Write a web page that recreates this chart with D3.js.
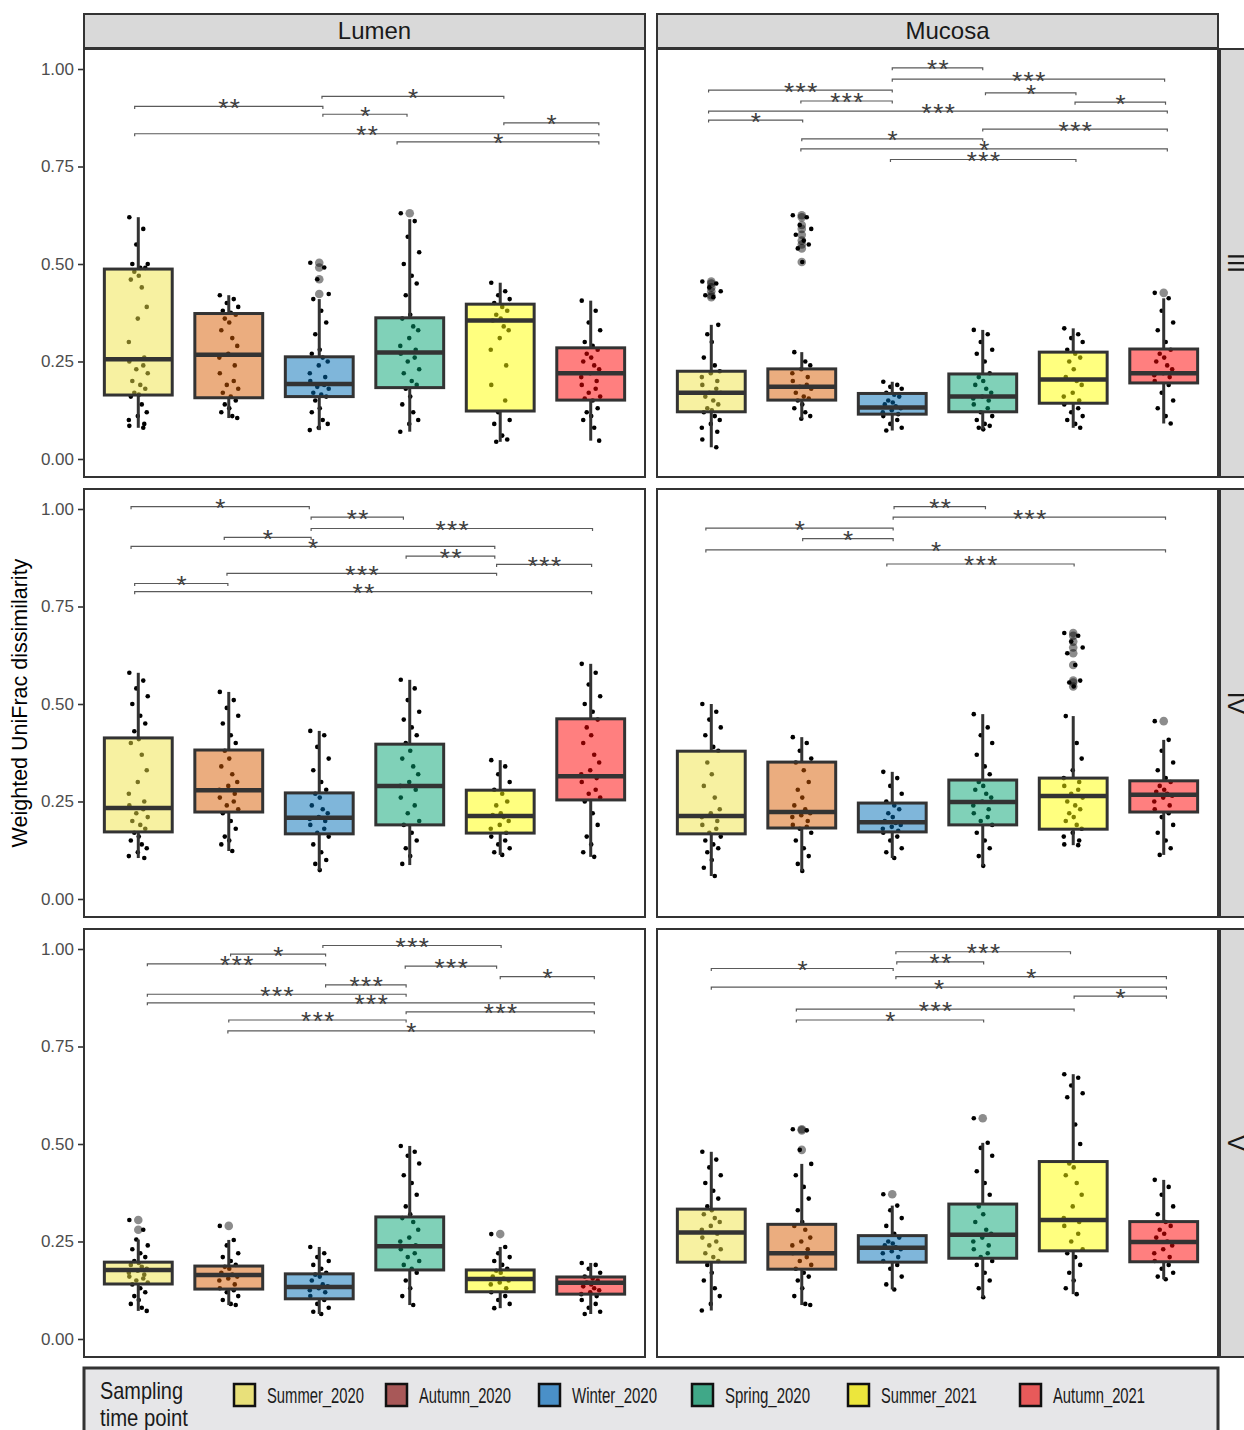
<!DOCTYPE html>
<html>
<head>
<meta charset="utf-8">
<script src="https://cdn.jsdelivr.net/npm/d3@7"></script>
<style>
body{margin:0;background:#fff;}
svg text{font-family:"Liberation Sans",Arial,sans-serif;}
</style>
</head>
<body>
<div id="bdy"></div>
<script>
var groups = ["Summer_2020","Autumn_2020","Winter_2020","Spring_2020","Summer_2021","Autumn_2021"];
var sites = ["Lumen","Mucosa"];
var segments = ["III","IV","V"];
var yTicks = [0, 0.25, 0.5, 0.75, 1];
var boxFill = ["#EFE343","#D75B00","#006DB5","#01A371","#FFFF00","#FF0000"];
var legendFill = ["#E8E07A","#A85858","#4A90C8","#40A888","#ECE63C","#E85A5A"];

// box stats per group: [lower whisker, q1, median, q3, upper whisker]
var statsLumenIII = [[.08,.164,.256,.487,.62],[.105,.157,.267,.373,.42],[.074,.16,.192,.262,.41],[.07,.183,.273,.362,.615],[.044,.123,.355,.397,.452],[.047,.151,.22,.285,.406]];
var statsMucosaIII = [[.03,.121,.17,.225,.344],[.103,.151,.185,.231,.274],[.073,.115,.132,.168,.198],[.076,.121,.16,.218,.331],[.08,.143,.204,.274,.335],[.091,.195,.22,.282,.412]];
var statsLumenIV = [[.105,.172,.233,.413,.58],[.123,.223,.279,.382,.531],[.074,.167,.208,.272,.431],[.087,.19,.29,.397,.562],[.113,.169,.213,.279,.356],[.108,.254,.315,.462,.603]];
var statsMucosaIV = [[.059,.167,.213,.379,.50],[.072,.182,.223,.351,.415],[.105,.172,.197,.246,.326],[.085,.19,.249,.305,.474],[.138,.179,.264,.31,.469],[.113,.223,.267,.303,.408]];
var statsLumenV = [[.072,.141,.177,.197,.255],[.087,.128,.164,.187,.254],[.064,.103,.133,.167,.236],[.087,.177,.238,.313,.495],[.079,.121,.154,.177,.236],[.064,.115,.144,.159,.195]];
var statsMucosaV = [[.073,.197,.273,.333,.48],[.087,.179,.22,.294,.449],[.127,.197,.234,.265,.342],[.107,.207,.267,.346,.503],[.115,.226,.305,.455,.679],[.153,.198,.249,.301,.408]];

// outliers per group
var outLumenIII = [[],[],[.503,.491,.461,.423],[.63],[],[]];
var outMucosaIII = [[.455,.45,.44,.43,.42,.415],[.625,.62,.60,.59,.575,.56,.55,.54,.505],[],[],[],[.426]];
var outLumenIV = [[],[],[],[],[],[]];
var outMucosaIV = [[],[],[],[],[.682,.675,.66,.645,.63,.60,.56,.555,.545],[.456]];
var outLumenV = [[.305,.28],[.29],[],[],[.269],[]];
var outMucosaV = [[],[.538,.535,.485],[.371],[.566],[],[]];

// all samples (jittered points)
var ptsLumenIII = [
  [.62,.59,.55,.50,.50,.49,.49,.48,.47,.46,.44,.39,.36,.30,.26,.25,.24,.23,.22,.20,.19,.18,.17,.165,.16,.14,.12,.11,.10,.09,.085,.08],
  [.42,.41,.40,.39,.38,.375,.37,.36,.35,.33,.31,.29,.27,.26,.24,.22,.20,.19,.18,.17,.16,.15,.14,.13,.12,.11,.105],
  [.503,.491,.461,.423,.41,.38,.35,.32,.28,.27,.26,.25,.24,.22,.21,.20,.19,.185,.18,.17,.165,.16,.15,.13,.12,.10,.09,.08,.074],
  [.63,.61,.57,.53,.50,.47,.45,.42,.37,.36,.34,.33,.31,.29,.28,.27,.26,.25,.23,.22,.20,.19,.18,.16,.14,.12,.10,.09,.07],
  [.452,.43,.42,.41,.40,.39,.38,.37,.36,.355,.34,.33,.31,.28,.24,.19,.15,.12,.10,.09,.06,.05,.044],
  [.406,.38,.35,.33,.30,.29,.28,.27,.26,.25,.24,.23,.22,.21,.20,.19,.18,.17,.16,.155,.15,.13,.12,.11,.10,.08,.047]
];
var ptsMucosaIII = [
  [.455,.45,.44,.43,.42,.415,.344,.32,.30,.26,.24,.225,.22,.21,.20,.19,.18,.17,.17,.16,.15,.14,.13,.125,.12,.11,.10,.09,.08,.07,.05,.03],
  [.625,.62,.60,.59,.575,.56,.55,.54,.505,.274,.25,.24,.23,.22,.21,.20,.19,.185,.18,.17,.16,.155,.15,.14,.13,.12,.11,.103],
  [.198,.19,.185,.18,.17,.165,.16,.15,.145,.14,.135,.13,.125,.12,.115,.11,.10,.09,.08,.073],
  [.331,.32,.30,.28,.27,.25,.22,.21,.20,.19,.18,.17,.16,.155,.15,.14,.13,.12,.11,.10,.09,.085,.08,.076],
  [.335,.32,.31,.30,.28,.27,.26,.25,.23,.21,.20,.19,.17,.16,.15,.14,.13,.12,.11,.10,.09,.08],
  [.426,.412,.38,.35,.33,.30,.28,.27,.26,.25,.24,.23,.22,.215,.21,.20,.19,.17,.15,.13,.11,.091]
];
var ptsLumenIV = [
  [.58,.56,.54,.52,.50,.47,.45,.43,.41,.40,.37,.33,.30,.27,.25,.24,.23,.22,.21,.20,.19,.18,.17,.16,.15,.14,.13,.12,.11,.105],
  [.531,.51,.49,.47,.45,.42,.40,.38,.36,.34,.32,.30,.29,.28,.27,.26,.25,.24,.23,.22,.20,.18,.16,.15,.14,.123],
  [.431,.42,.39,.36,.33,.30,.28,.27,.26,.24,.23,.22,.21,.205,.20,.19,.18,.17,.16,.14,.12,.10,.09,.074],
  [.562,.54,.51,.48,.46,.44,.42,.40,.38,.36,.34,.32,.30,.29,.28,.26,.24,.22,.20,.19,.17,.15,.13,.11,.09],
  [.356,.34,.32,.30,.28,.27,.25,.24,.22,.215,.21,.20,.19,.18,.17,.16,.15,.14,.13,.12,.113],
  [.603,.58,.55,.52,.50,.48,.46,.44,.42,.40,.37,.35,.33,.32,.31,.30,.28,.27,.26,.25,.22,.19,.16,.14,.12,.108]
];
var ptsMucosaIV = [
  [.50,.48,.46,.44,.42,.39,.38,.35,.32,.29,.26,.23,.22,.21,.20,.19,.18,.17,.16,.15,.14,.13,.12,.10,.08,.059],
  [.415,.40,.38,.36,.35,.33,.30,.28,.26,.24,.23,.22,.215,.21,.20,.19,.185,.18,.17,.15,.13,.11,.09,.072],
  [.326,.31,.29,.27,.25,.24,.23,.22,.21,.20,.195,.19,.185,.18,.175,.17,.16,.15,.13,.12,.105],
  [.474,.44,.42,.40,.37,.34,.32,.30,.29,.28,.27,.26,.25,.24,.23,.22,.21,.20,.19,.17,.15,.13,.11,.085],
  [.682,.675,.66,.645,.63,.60,.56,.555,.545,.469,.40,.36,.33,.31,.30,.29,.28,.27,.26,.25,.24,.23,.22,.21,.20,.19,.18,.17,.16,.15,.14,.138],
  [.456,.408,.38,.35,.33,.31,.30,.29,.28,.275,.27,.265,.26,.25,.24,.23,.22,.21,.19,.17,.15,.13,.113]
];
var ptsLumenV = [
  [.305,.28,.255,.24,.23,.22,.21,.20,.195,.19,.185,.18,.175,.17,.165,.16,.155,.15,.145,.14,.13,.12,.11,.10,.09,.08,.072],
  [.29,.254,.24,.22,.21,.20,.19,.185,.18,.17,.165,.16,.155,.15,.14,.13,.125,.12,.11,.10,.09,.087],
  [.236,.22,.21,.20,.19,.18,.17,.165,.16,.15,.14,.135,.13,.125,.12,.11,.10,.09,.08,.07,.064],
  [.495,.48,.47,.45,.42,.40,.37,.34,.32,.31,.30,.28,.26,.25,.24,.23,.22,.21,.20,.19,.18,.17,.15,.13,.11,.087],
  [.269,.236,.22,.21,.20,.19,.18,.175,.17,.16,.155,.15,.145,.14,.13,.12,.11,.10,.09,.079],
  [.195,.19,.18,.17,.16,.155,.15,.145,.14,.135,.13,.125,.12,.115,.11,.10,.09,.08,.07,.064]
];
var ptsMucosaV = [
  [.48,.46,.44,.42,.40,.38,.36,.34,.33,.32,.31,.30,.29,.28,.27,.26,.25,.24,.23,.22,.21,.20,.19,.17,.15,.13,.11,.09,.073],
  [.538,.535,.485,.449,.42,.39,.36,.33,.30,.29,.28,.26,.25,.24,.23,.22,.21,.20,.19,.18,.17,.16,.15,.13,.11,.09,.087],
  [.371,.342,.33,.31,.29,.27,.26,.25,.245,.24,.235,.23,.225,.22,.21,.20,.19,.18,.16,.14,.127],
  [.566,.503,.49,.47,.43,.40,.37,.34,.32,.30,.28,.27,.26,.25,.24,.23,.22,.21,.20,.19,.17,.15,.13,.107],
  [.679,.67,.65,.63,.62,.55,.50,.45,.44,.42,.40,.37,.34,.31,.30,.29,.27,.25,.23,.22,.21,.19,.17,.15,.13,.115],
  [.408,.39,.37,.34,.32,.30,.29,.28,.27,.26,.25,.24,.23,.22,.21,.20,.19,.18,.17,.16,.153]
];

// significance brackets: [from group, to group, height, label]
var sigLumenIII = [[0.96,3.04,.904,"**"],[3.03,5.04,.930,"*"],[3.04,3.97,.884,"*"],[5.04,6.09,.862,"*"],[0.96,6.09,.834,"**"],[3.86,6.09,.813,"*"]];
var sigMucosaIII = [[3.0,4.0,1.003,"**"],[3.0,6.01,.974,"***"],[0.97,3.0,.946,"***"],[4.03,5.03,.939,"*"],[1.99,3.0,.918,"***"],[5.02,6.02,.915,"*"],
  [0.97,6.04,.892,"***"],[0.97,2.01,.869,"*"],[4.0,6.04,.846,"***"],[2.0,4.0,.821,"*"],[1.99,6.04,.795,"*"],[2.98,5.03,.768,"***"]];
var sigLumenIV = [[0.92,2.89,1.006,"*"],[2.91,3.93,.979,"**"],[2.91,6.02,.950,"***"],[1.95,2.91,.927,"*"],[0.92,4.94,.904,"*"],
  [3.96,4.94,.879,"**"],[4.96,6.01,.858,"***"],[1.98,4.96,.835,"***"],[0.96,1.99,.809,"*"],[0.96,6.01,.788,"**"]];
var sigMucosaIV = [[3.02,4.03,1.006,"**"],[3.01,6.02,.979,"***"],[0.94,3.01,.951,"*"],[2.01,3.01,.924,"*"],[0.94,6.02,.895,"*"],[2.94,5.01,.859,"***"]];
var sigLumenV = [[3.04,5.01,1.009,"***"],[2.02,3.07,.987,"*"],[1.10,3.07,.962,"***"],[3.95,4.96,.956,"***"],[5.0,6.04,.929,"*"],[3.07,3.96,.908,"***"],
  [1.10,3.96,.884,"***"],[1.10,6.04,.862,"***"],[3.96,6.04,.839,"***"],[2.0,3.96,.818,"***"],[1.99,6.04,.790,"*"]];
var sigMucosaV = [[3.04,4.97,.993,"***"],[3.05,4.01,.967,"**"],[1.0,3.01,.950,"*"],[3.04,6.03,.929,"*"],[1.0,6.03,.902,"*"],[5.01,6.03,.879,"*"],
  [1.94,5.01,.846,"***"],[1.94,4.01,.818,"*"]];

var panels = [
  {site:0, seg:0, stats:statsLumenIII, out:outLumenIII, pts:ptsLumenIII, sig:sigLumenIII},
  {site:1, seg:0, stats:statsMucosaIII, out:outMucosaIII, pts:ptsMucosaIII, sig:sigMucosaIII},
  {site:0, seg:1, stats:statsLumenIV, out:outLumenIV, pts:ptsLumenIV, sig:sigLumenIV},
  {site:1, seg:1, stats:statsMucosaIV, out:outMucosaIV, pts:ptsMucosaIV, sig:sigMucosaIV},
  {site:0, seg:2, stats:statsLumenV, out:outLumenV, pts:ptsLumenV, sig:sigLumenV},
  {site:1, seg:2, stats:statsMucosaV, out:outMucosaV, pts:ptsMucosaV, sig:sigMucosaV}
];

var colX = [[84,645],[657,1218]];
var rowY = [[49,477],[489,917],[929,1357]];
// fixed horizontal jitter pattern (fraction of jitter width)
var jit = [-0.9,0.5,-0.2,0.95,-0.6,0.2,0.7,-0.4,0.05,-0.75,0.35,0.85,-0.05,-0.95,0.6];

var svg = d3.select('#bdy').append('svg')
    .attr('width', 1244)
    .attr('height', 1430);

//========================================================================
//                      PANELS
//========================================================================
panels.forEach(function(p){
    var x0 = colX[p.site][0], x1 = colX[p.site][1];
    var y0 = rowY[p.seg][0], y1 = rowY[p.seg][1];
    var x = d3.scaleLinear().domain([0.4, 6.6]).range([x0, x1]);
    var y = d3.scaleLinear().domain([-0.0462, 1.0513]).range([y1, y0]);
    var bw = x(1.375) - x(0.625);

    var g = svg.append('g');
    g.append('rect')
        .attr('x', x0).attr('y', y0)
        .attr('width', x1 - x0).attr('height', y1 - y0)
        .attr('fill', '#fff');

    // jittered samples first, boxes go over them
    p.pts.forEach(function(vals, gi){
        g.selectAll(null)
            .data(vals)
            .enter().append('circle')
            .attr('cx', function(d, i){ return x(gi + 1 + jit[i % jit.length] * 0.11); })
            .attr('cy', function(d){ return y(d); })
            .attr('r', 2.3)
            .attr('fill', '#000');
    });

    p.stats.forEach(function(s, gi){
        var cx = x(gi + 1);
        var bx = g.append('g');
        bx.append('line')
            .attr('x1', cx).attr('x2', cx)
            .attr('y1', y(s[4])).attr('y2', y(s[3]))
            .attr('stroke', '#333').attr('stroke-width', 3);
        bx.append('line')
            .attr('x1', cx).attr('x2', cx)
            .attr('y1', y(s[1])).attr('y2', y(s[0]))
            .attr('stroke', '#333').attr('stroke-width', 3);
        bx.append('rect')
            .attr('x', cx - bw / 2).attr('width', bw)
            .attr('y', y(s[3])).attr('height', y(s[1]) - y(s[3]))
            .attr('fill', boxFill[gi]).attr('fill-opacity', 0.5)
            .attr('stroke', '#333').attr('stroke-width', 3);
        bx.append('line')
            .attr('x1', cx - bw / 2).attr('x2', cx + bw / 2)
            .attr('y1', y(s[2])).attr('y2', y(s[2]))
            .attr('stroke', '#333').attr('stroke-width', 4.5);
        bx.selectAll('.out')
            .data(p.out[gi])
            .enter().append('circle')
            .attr('cx', cx)
            .attr('cy', function(d){ return y(d); })
            .attr('r', 4.3)
            .attr('fill', '#000').attr('fill-opacity', 0.45);
    });

    // significance brackets
    var sg = g.append('g');
    sg.selectAll('path')
        .data(p.sig)
        .enter().append('path')
        .attr('d', function(d){
            var yy = y(d[2]);
            return 'M' + x(d[0]) + ',' + (yy + 2.5) + 'L' + x(d[0]) + ',' + yy +
                   'L' + x(d[1]) + ',' + yy + 'L' + x(d[1]) + ',' + (yy + 2.5);
        })
        .attr('fill', 'none')
        .attr('stroke', '#5a5a5a')
        .attr('stroke-width', 1.2);
    sg.selectAll('text')
        .data(p.sig)
        .enter().append('text')
        .attr('x', function(d){ return (x(d[0]) + x(d[1])) / 2 + 1; })
        .attr('y', function(d){ return y(d[2]) + 10.5; })
        .attr('text-anchor', 'middle')
        .style('font-size', '26px')
        .style('letter-spacing', '1.5px')
        .attr('fill', '#3d3d3d')
        .text(function(d){ return d[3]; });

    g.append('rect')
        .attr('x', x0).attr('y', y0)
        .attr('width', x1 - x0).attr('height', y1 - y0)
        .attr('fill', 'none')
        .attr('stroke', '#333').attr('stroke-width', 2);

    // y axis only on the left column
    if (p.site == 0) {
        var ax = g.append('g')
            .attr('transform', 'translate(' + (x0 - 1) + ',0)')
            .call(d3.axisLeft(y).tickValues(yTicks).tickFormat(d3.format('.2f')).tickSize(5).tickPadding(4));
        ax.select('.domain').remove();
        ax.selectAll('line').attr('stroke', '#333').attr('stroke-width', 1.6);
        ax.selectAll('text')
            .attr('fill', '#4d4d4d')
            .style('font-size', '17px')
            .style('font-family', '"Liberation Sans",Arial,sans-serif');
    }
});

//========================================================================
//                      STRIPS
//========================================================================
sites.forEach(function(s, i){
    svg.append('rect')
        .attr('x', colX[i][0]).attr('y', 14)
        .attr('width', colX[i][1] - colX[i][0]).attr('height', 34)
        .attr('fill', '#d9d9d9').attr('stroke', '#333').attr('stroke-width', 2);
    svg.append('text')
        .attr('x', (colX[i][0] + colX[i][1]) / 2 + 10)
        .attr('y', 30)
        .attr('text-anchor', 'middle')
        .attr('dominant-baseline', 'central')
        .style('font-size', '24px')
        .attr('fill', '#1a1a1a')
        .text(s);
});

segments.forEach(function(s, i){
    svg.append('rect')
        .attr('x', 1220).attr('y', rowY[i][0])
        .attr('width', 36).attr('height', rowY[i][1] - rowY[i][0])
        .attr('fill', '#d9d9d9').attr('stroke', '#333').attr('stroke-width', 2);
    svg.append('text')
        .attr('transform', 'translate(1236,' + (rowY[i][0] + rowY[i][1]) / 2 + ') rotate(90)')
        .attr('text-anchor', 'middle')
        .attr('dominant-baseline', 'central')
        .style('font-size', '24px')
        .attr('fill', '#1a1a1a')
        .text(s);
});

// y axis title
svg.append('text')
    .attr('transform', 'translate(20,703) rotate(-90)')
    .attr('text-anchor', 'middle')
    .attr('dominant-baseline', 'central')
    .style('font-size', '21.5px')
    .attr('fill', '#000')
    .text('Weighted UniFrac dissimilarity');

//========================================================================
//                      LEGEND
//========================================================================
var keyX = [234, 386, 539, 692, 848, 1020];
var labW = [97, 92, 85, 85, 96, 92];
var leg = svg.append('g');
leg.append('rect')
    .attr('x', 84).attr('y', 1368)
    .attr('width', 1134).attr('height', 90)
    .attr('fill', '#e6e6e8').attr('stroke', '#333').attr('stroke-width', 3);
leg.append('text')
    .attr('x', 100).attr('y', 1399)
    .style('font-size', '24px')
    .attr('textLength', 83).attr('lengthAdjust', 'spacingAndGlyphs')
    .attr('fill', '#1a1a1a')
    .text('Sampling');
leg.append('text')
    .attr('x', 100).attr('y', 1426)
    .style('font-size', '24px')
    .attr('textLength', 88).attr('lengthAdjust', 'spacingAndGlyphs')
    .attr('fill', '#1a1a1a')
    .text('time point');
groups.forEach(function(gname, i){
    leg.append('rect')
        .attr('x', keyX[i]).attr('y', 1384)
        .attr('width', 21).attr('height', 22)
        .attr('fill', legendFill[i])
        .attr('stroke', '#111').attr('stroke-width', 2.5);
    leg.append('text')
        .attr('x', keyX[i] + 33).attr('y', 1403)
        .style('font-size', '22px')
        .attr('textLength', labW[i]).attr('lengthAdjust', 'spacingAndGlyphs')
        .attr('fill', '#1a1a1a')
        .text(gname);
});
</script>
</body>
</html>
